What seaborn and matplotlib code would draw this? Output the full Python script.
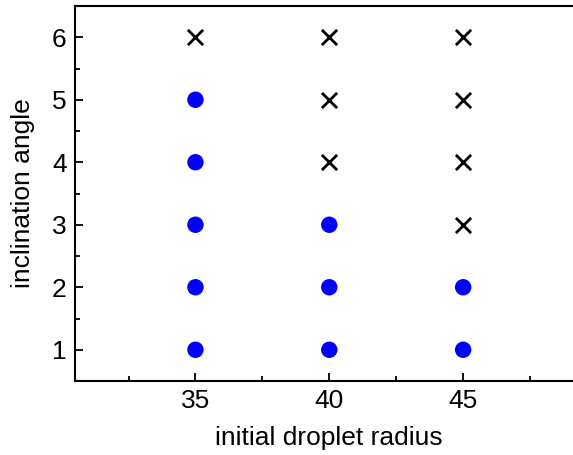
import matplotlib
matplotlib.use("Agg")
import matplotlib.pyplot as plt
import seaborn as sns
import pandas as pd
from matplotlib.ticker import MultipleLocator

# Observations: initial droplet radius vs. inclination angle
stable_radius = [35, 35, 35, 35, 35, 40, 40, 40, 45, 45]
stable_angle = [1, 2, 3, 4, 5, 1, 2, 3, 1, 2]
unstable_radius = [35, 40, 40, 40, 45, 45, 45, 45]
unstable_angle = [6, 4, 5, 6, 3, 4, 5, 6]

stable = pd.DataFrame({"radius": stable_radius, "angle": stable_angle})
unstable = pd.DataFrame({"radius": unstable_radius, "angle": unstable_angle})

sns.set_style("ticks")
plt.rcParams["font.family"] = ["Liberation Sans", "DejaVu Sans"]
plt.rcParams["text.color"] = "black"
plt.rcParams["axes.labelcolor"] = "black"
plt.rcParams["xtick.color"] = "black"
plt.rcParams["ytick.color"] = "black"

fig = plt.figure(figsize=(5.73, 4.55), dpi=100)
ax = fig.add_axes([75 / 573, 1 - 381 / 455, (583.6 - 75) / 573, (381 - 6) / 455])

sns.scatterplot(data=stable, x="radius", y="angle", ax=ax, color="#0000ff",
                marker="o", s=140, edgecolor="none", linewidth=0)
sns.scatterplot(data=unstable, x="radius", y="angle", ax=ax, color="black",
                marker="x", s=120, linewidth=2)

ax.set_xlim(30.5, 49.5)
ax.set_ylim(0.5, 6.5)
ax.xaxis.set_major_locator(MultipleLocator(5))
ax.xaxis.set_minor_locator(MultipleLocator(2.5))
ax.yaxis.set_major_locator(MultipleLocator(1))
ax.yaxis.set_minor_locator(MultipleLocator(0.5))
ax.tick_params(which="both", direction="in", top=False, right=False,
               labelsize=19, width=1.3, colors="black")
ax.tick_params(which="major", length=6, pad=6)
ax.tick_params(which="minor", length=3.5)
for sp in ax.spines.values():
    sp.set_linewidth(1.5)
    sp.set_color("black")

ax.set_xlabel("initial droplet radius", fontsize=19, labelpad=9, color="black")
ax.set_ylabel("inclination angle", fontsize=19, labelpad=12, color="black")

fig.savefig("out.png", dpi=100)
